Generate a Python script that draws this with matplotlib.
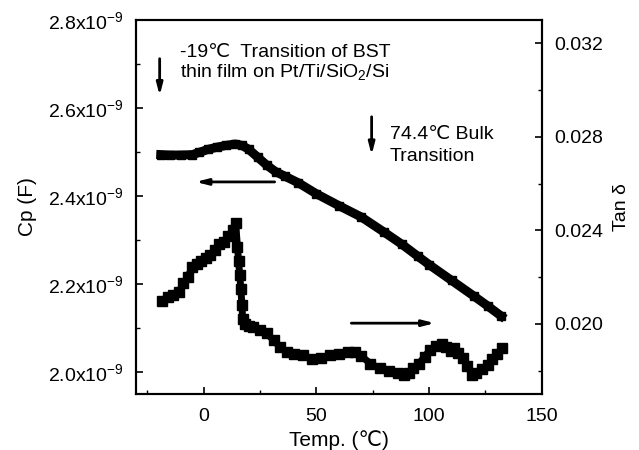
import matplotlib
matplotlib.use("Agg")
import matplotlib.pyplot as plt
from matplotlib.ticker import MultipleLocator, FuncFormatter

plt.rcParams['font.family'] = ['Liberation Sans', 'DejaVu Sans']
plt.rcParams['mathtext.fontset'] = 'custom'
plt.rcParams['mathtext.rm'] = 'Liberation Sans'
plt.rcParams['mathtext.it'] = 'Liberation Sans:italic'

# Cp (F, in 1e-9) vs temperature
cp_temp = [-19, -15, -10, -5, -2, 2, 6, 10, 14, 17, 20, 24, 28, 32, 36, 42,
           50, 60, 70, 80, 88, 95, 100, 110, 120, 126, 132]
cp_val = [2.494, 2.493, 2.493, 2.494, 2.499, 2.506, 2.511, 2.515, 2.518, 2.515,
          2.506, 2.488, 2.470, 2.455, 2.445, 2.430, 2.405, 2.378, 2.352, 2.318,
          2.290, 2.263, 2.244, 2.208, 2.172, 2.150, 2.127]

# Tan delta vs temperature
tan_temp = [-18.5, -16, -13.5, -11, -9, -7, -5, -3, -1, 1, 3, 5, 7, 9, 11, 13,
            14.2, 15.0, 15.5, 16.0, 16.5, 17.0, 17.3, 18.5, 20, 22, 25, 28, 31,
            34, 37, 40, 44, 48, 52, 56, 60, 64, 67, 70, 74, 78, 82, 86, 89, 91,
            93, 95.5, 98, 100.5, 103, 105.5, 107.5, 109.5, 111, 113, 115, 117,
            119, 121, 123.5, 126, 128, 130, 132.2]
tan_val = [0.02100, 0.02115, 0.02125, 0.02135, 0.02175, 0.02200, 0.02245,
           0.02255, 0.02270, 0.02280, 0.02295, 0.02315, 0.02340, 0.02350,
           0.02375, 0.02400, 0.02430, 0.02330, 0.02270, 0.02210, 0.02150,
           0.02080, 0.02020, 0.02000, 0.01990, 0.01985, 0.01975, 0.01960,
           0.01930, 0.01900, 0.01880, 0.01872, 0.01865, 0.01850, 0.01855,
           0.01865, 0.01870, 0.01878, 0.01880, 0.01862, 0.01830, 0.01810,
           0.01800, 0.01790, 0.01782, 0.01790, 0.01810, 0.01830, 0.01860,
           0.01890, 0.01905, 0.01915, 0.01900, 0.01885, 0.01895, 0.01875,
           0.01855, 0.01820, 0.01782, 0.01790, 0.01805, 0.01825, 0.01850,
           0.01870, 0.01895]

x_ticks = [0, 50, 100, 150]
cp_ticks = [2.0, 2.2, 2.4, 2.6, 2.8]
tan_ticks = [0.020, 0.024, 0.028, 0.032]

fig = plt.figure(figsize=(6.39, 4.5), dpi=100)
ax = fig.add_axes([0.2128, 0.1244, 0.6352, 0.8312])
ax2 = ax.twinx()

ax.plot(cp_temp, [v * 1e-9 for v in cp_val], color='black', lw=6.5,
        marker='s', ms=6)
ax2.plot(tan_temp, tan_val, color='black', lw=5, marker='s', ms=6.5)

ax.set_xlim(-30, 150)
ax.set_ylim(1.95e-9, 2.8e-9)
ax2.set_ylim(0.017, 0.033)

ax.set_xticks(x_ticks)
ax.xaxis.set_minor_locator(MultipleLocator(25))
ax.set_yticks([v * 1e-9 for v in cp_ticks])
ax.yaxis.set_minor_locator(MultipleLocator(0.1e-9))
ax.yaxis.set_major_formatter(FuncFormatter(
    lambda v, p: r'%.1fx10$^{\mathregular{-9}}$' % (v * 1e9)))
ax2.set_yticks(tan_ticks)
ax2.yaxis.set_minor_locator(MultipleLocator(0.002))
ax2.yaxis.set_major_formatter(FuncFormatter(lambda v, p: '%.3f' % v))

for a in (ax, ax2):
    a.tick_params(which='major', direction='in', length=5, width=1.2,
                  labelsize=14, pad=9)
    a.tick_params(which='minor', direction='in', length=3, width=1.0)
    for s in a.spines.values():
        s.set_linewidth(1.5)
ax.tick_params(axis='both', which='both', top=False, right=False)
ax.tick_params(axis='x', pad=10)

ax.set_xlabel('Temp. (℃)', fontsize=15, labelpad=4)
ax.set_ylabel('Cp (F)', fontsize=15, labelpad=8)
ax2.set_ylabel('Tan δ', fontsize=14, labelpad=7)

# annotations
ax.text(-10.6, 2.727e-9, '-19℃  Transition of BST', fontsize=14, va='center')
ax.text(-10.6, 2.681e-9, r'thin film on Pt/Ti/SiO$_2$/Si', fontsize=14,
        va='center')
ax.text(82.5, 2.539e-9, '74.4℃ Bulk', fontsize=14, va='center')
ax.text(82.5, 2.489e-9, 'Transition', fontsize=14, va='center')

arrow_kw = dict(arrowstyle='-|>,head_length=0.7,head_width=0.18', color='black',
                lw=2, shrinkA=0, shrinkB=0)
ax.annotate('', xy=(-19.5, 2.628e-9), xytext=(-19.5, 2.712e-9),
            arrowprops=arrow_kw)
ax.annotate('', xy=(74.5, 2.493e-9), xytext=(74.5, 2.580e-9),
            arrowprops=arrow_kw)
ax.annotate('', xy=(-3.5, 2.432e-9), xytext=(31.5, 2.432e-9),
            arrowprops=arrow_kw)
ax.annotate('', xy=(102.5, 2.111e-9), xytext=(65.5, 2.111e-9),
            arrowprops=arrow_kw)

fig.savefig('out.png', dpi=100)
